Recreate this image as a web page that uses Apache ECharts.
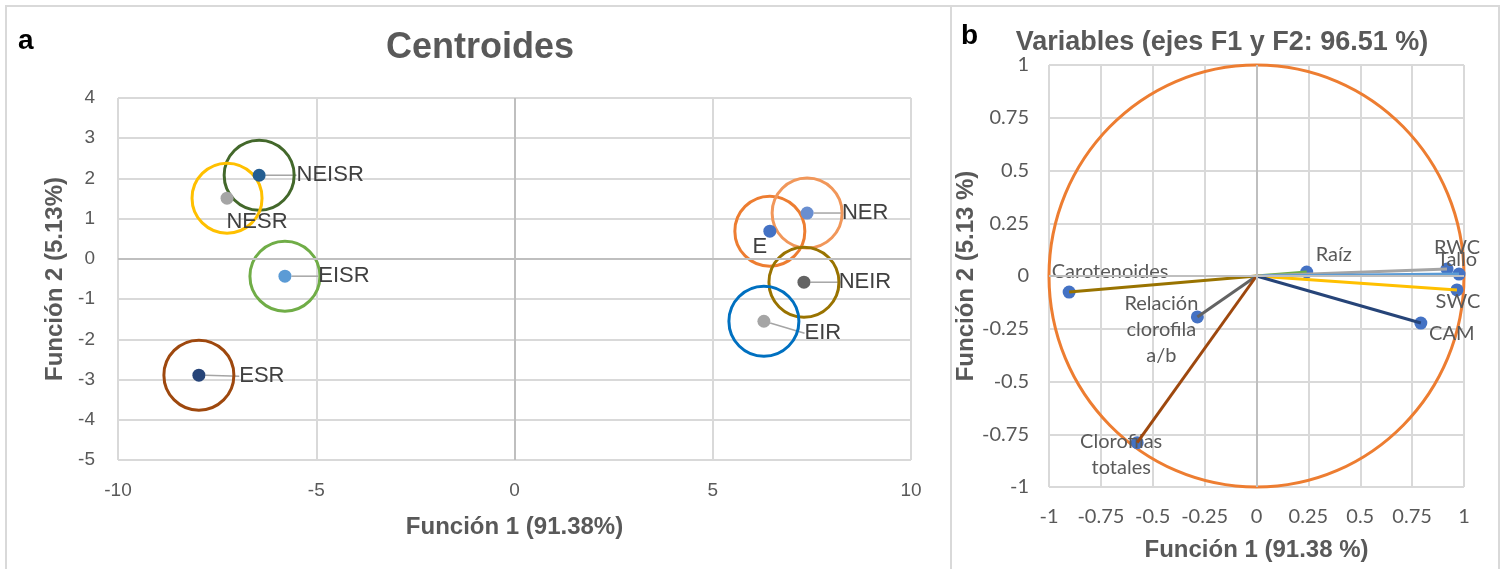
<!DOCTYPE html>
<html><head><meta charset="utf-8">
<script src="https://cdn.jsdelivr.net/npm/echarts@6/dist/echarts.min.js"></script>
<style>html,body{margin:0;padding:0;background:#fff}#c{width:1504px;height:569px}</style>
</head><body><div id="c"></div>
<script>
// ---- Panel a: centroids ----
const groups = ['NEISR', 'NESR', 'EISR', 'ESR', 'E', 'NER', 'NEIR', 'EIR'];
const groupF1 = [-6.44, -7.25, -5.79, -7.96, 6.44, 7.38, 7.30, 6.29];
const groupF2 = [2.08, 1.51, -0.43, -2.89, 0.69, 1.14, -0.58, -1.55];
const xRangeA = [-10, 10, 5];
const yRangeA = [-5, 4, 1];

// ---- Panel b: variables ----
const variables = ['Carotenoides', 'Relación\nclorofila\na/b', 'Clorofilas\ntotales', 'Raíz', 'RWC', 'Tallo', 'SWC', 'CAM'];
const varF1 = [-0.903, -0.285, -0.575, 0.242, 0.918, 0.976, 0.966, 0.792];
const varF2 = [-0.076, -0.194, -0.790, 0.019, 0.033, 0.009, -0.066, -0.223];
const rangeB = [-1, 1, 0.25];

// ---- styles (kept separate from data) ----
const dotColorsA = ['#255E91', '#A5A5A5', '#5B9BD5', '#264478', '#4472C4', '#698ED0', '#636363', '#A5A5A5'];
const ringColorsA = ['#43682B', '#FFC000', '#70AD47', '#9E480E', '#ED7D31', '#F1975A', '#997300', '#0070C0'];
const labelOffsetsA = [[71, 0], [30, 24], [59, 0], [63, 1], [-10, 16], [58, 0], [61, 0], [59, 12]];
const leaderA = [true, false, true, true, false, true, true, true];
const lineColorsB = ['#997300', '#636363', '#9E480E', '#70AD47', '#A5A5A5', '#5B9BD5', '#FFC000', '#264478'];
const labelOffsetsB = [[41, -20], [-36, 13], [-16, 12], [27, -17], [10, -21], [-2, -15], [1, 12], [31, 10]];

const grid = '#D9D9D9', zero = '#BFBFBF', txt = '#595959';

const chart = echarts.init(document.getElementById('c'));

const axisCommon = {
  type: 'value',
  axisLine: { show: false }, axisTick: { show: false },
  splitLine: { show: true, lineStyle: { color: grid, width: 2 } }
};

const series = [];
// rings
series.push({
  type: 'scatter', xAxisIndex: 0, yAxisIndex: 0, symbolSize: 70, silent: true,
  itemStyle: { opacity: 1 },
  data: groups.map((g, i) => ({ value: [groupF1[i], groupF2[i]], itemStyle: { color: 'rgba(0,0,0,0)', borderColor: ringColorsA[i], borderWidth: 3, opacity: 1 } })),
  markLine: {
    silent: true, symbol: 'none', label: { show: false },
    lineStyle: { color: zero, width: 2, type: 'solid' },
    data: [{ xAxis: 0 }, { yAxis: 0 }]
  }
});
// dots with labels
series.push({
  type: 'scatter', xAxisIndex: 0, yAxisIndex: 0, symbolSize: 13,
  itemStyle: { opacity: 1 },
  data: groups.map((g, i) => ({
    name: g, value: [groupF1[i], groupF2[i]],
    itemStyle: { color: dotColorsA[i], opacity: 1 },
    labelLine: { show: leaderA[i] }
  })),
  label: { show: true, position: 'inside', formatter: '{b}', color: '#404040', fontSize: 22, fontFamily: 'Liberation Sans, Arial, sans-serif' },
  labelLine: { show: true, lineStyle: { color: '#A5A5A5', width: 1.5 } },
  labelLayout: p => ({ dx: labelOffsetsA[p.dataIndex][0], dy: labelOffsetsA[p.dataIndex][1] })
});
// panel b: correlation circle
series.push({
  type: 'custom', xAxisIndex: 1, yAxisIndex: 1, silent: true, clip: false,
  data: [[0, 0]],
  renderItem: (params, api) => {
    const c = api.coord([0, 0]);
    const rx = api.coord([1, 0])[0] - c[0];
    const ry = c[1] - api.coord([0, 1])[1];
    return { type: 'ellipse', shape: { cx: c[0], cy: c[1], rx: rx, ry: ry }, style: { fill: 'none', stroke: '#ED7D31', lineWidth: 3 } };
  },
  markLine: {
    silent: true, symbol: 'none', label: { show: false },
    lineStyle: { color: zero, width: 2, type: 'solid' },
    data: [{ xAxis: 0 }, { yAxis: 0 }]
  }
});
// vectors
variables.forEach((v, i) => {
  series.push({
    type: 'line', xAxisIndex: 1, yAxisIndex: 1, symbol: 'none', silent: true,
    data: [[0, 0], [varF1[i], varF2[i]]],
    lineStyle: { color: lineColorsB[i], width: 3 }
  });
});
// variable points
series.push({
  type: 'scatter', xAxisIndex: 1, yAxisIndex: 1, symbolSize: 13,
  itemStyle: { color: '#4472C4', opacity: 1 },
  data: variables.map((v, i) => ({
    name: v, value: [varF1[i], varF2[i]],
    label: { offset: labelOffsetsB[i] }
  })),
  label: { show: true, position: 'inside', formatter: '{b}', align: 'center', color: txt, fontSize: 20, lineHeight: 26, fontFamily: 'Lato, sans-serif' }
});

chart.setOption({
  animation: false,
  grid: [
    { left: 118, top: 98, width: 793, height: 362 },
    { left: 1049, top: 65, width: 415, height: 422 }
  ],
  xAxis: [
    Object.assign({}, axisCommon, {
      gridIndex: 0, min: xRangeA[0], max: xRangeA[1], interval: xRangeA[2],
      axisLabel: { color: txt, fontSize: 19, margin: 21, fontFamily: 'Liberation Sans, Arial, sans-serif' },
      name: 'Función 1 (91.38%)', nameLocation: 'middle', nameGap: 55,
      nameTextStyle: { color: txt, fontSize: 24, fontWeight: 'bold', fontFamily: 'Liberation Sans, Arial, sans-serif' }
    }),
    Object.assign({}, axisCommon, {
      gridIndex: 1, min: rangeB[0], max: rangeB[1], interval: rangeB[2],
      axisLabel: { color: txt, fontSize: 20, margin: 20, fontFamily: 'Lato, sans-serif' },
      name: 'Función 1 (91.38 %)', nameLocation: 'middle', nameGap: 51,
      nameTextStyle: { color: txt, fontSize: 24, fontWeight: 'bold', fontFamily: 'Liberation Sans, Arial, sans-serif' }
    })
  ],
  yAxis: [
    Object.assign({}, axisCommon, {
      gridIndex: 0, min: yRangeA[0], max: yRangeA[1], interval: yRangeA[2],
      axisLabel: { color: txt, fontSize: 19, margin: 23, fontFamily: 'Liberation Sans, Arial, sans-serif' },
      name: 'Función 2 (5.13%)', nameLocation: 'middle', nameGap: 51,
      nameTextStyle: { color: txt, fontSize: 24, fontWeight: 'bold', fontFamily: 'Liberation Sans, Arial, sans-serif' }
    }),
    Object.assign({}, axisCommon, {
      gridIndex: 1, min: rangeB[0], max: rangeB[1], interval: rangeB[2],
      axisLabel: { color: txt, fontSize: 20, margin: 20, fontFamily: 'Lato, sans-serif' },
      name: 'Función 2 (5.13 %)', nameLocation: 'middle', nameGap: 64,
      nameTextStyle: { color: txt, fontSize: 24, fontWeight: 'bold', fontFamily: 'Liberation Sans, Arial, sans-serif' }
    })
  ],
  graphic: [
    { type: 'rect', shape: { x: 6, y: 6, width: 945, height: 600 }, style: { fill: 'none', stroke: grid, lineWidth: 2 }, silent: true },
    { type: 'rect', shape: { x: 951, y: 6, width: 548, height: 600 }, style: { fill: 'none', stroke: grid, lineWidth: 2 }, silent: true },
    { type: 'text', left: 18, top: 27, style: { text: 'a', fill: '#000', font: 'bold 28px Liberation Sans, Arial, sans-serif' } },
    { type: 'text', left: 961, top: 22, style: { text: 'b', fill: '#000', font: 'bold 28px Liberation Sans, Arial, sans-serif' } },
    { type: 'text', x: 480, y: 48, style: { text: 'Centroides', fill: txt, font: 'bold 36px Liberation Sans, Arial, sans-serif', align: 'center', verticalAlign: 'middle' } },
    { type: 'text', x: 1222, y: 43, style: { text: 'Variables (ejes F1 y F2: 96.51 %)', fill: txt, font: 'bold 27px Liberation Sans, Arial, sans-serif', align: 'center', verticalAlign: 'middle' } }
  ],
  series: series
});
</script>
</body></html>
